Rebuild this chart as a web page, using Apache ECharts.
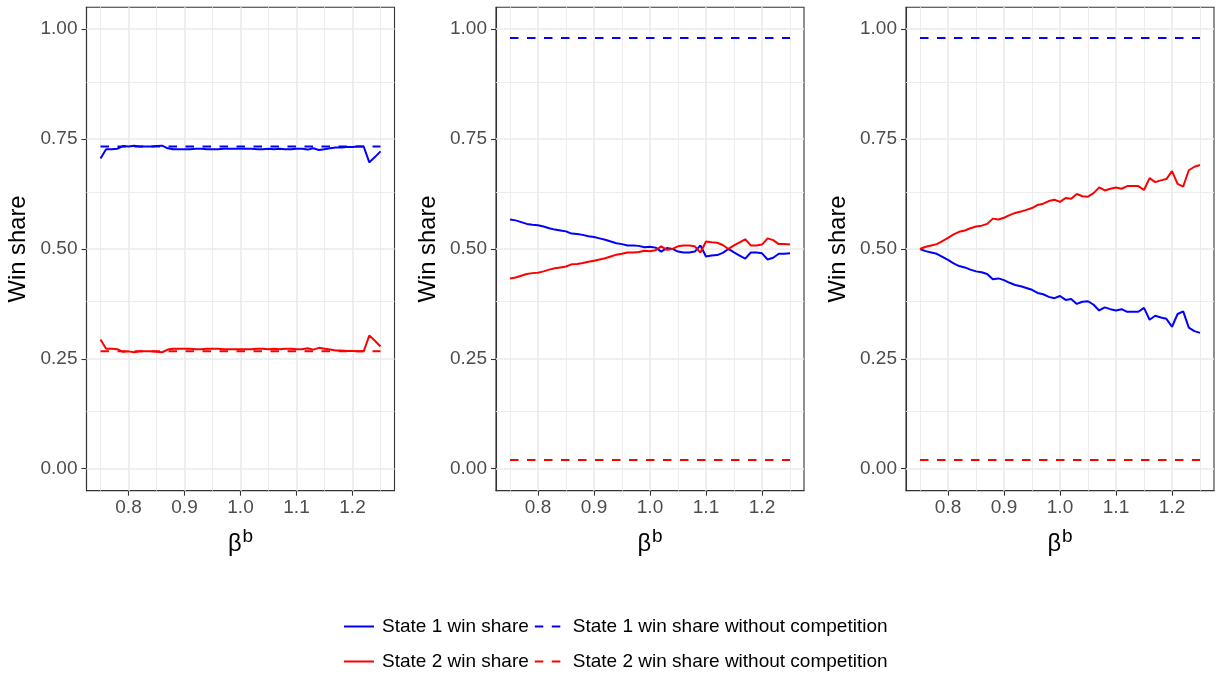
<!DOCTYPE html>
<html><head><meta charset="utf-8">
<script src="https://cdn.jsdelivr.net/npm/echarts@6.0.0/dist/echarts.min.js"></script>
<style>html,body{margin:0;padding:0;background:#fff}#c{width:1215px;height:673px}</style>
</head><body><div id="c"></div>
<script>
const betaB = [0.75,0.76,0.77,0.78,0.79,0.80,0.81,0.82,0.83,0.84,0.85,0.86,0.87,0.88,0.89,0.90,0.91,0.92,0.93,0.94,0.95,0.96,0.97,0.98,0.99,1.00,1.01,1.02,1.03,1.04,1.05,1.06,1.07,1.08,1.09,1.10,1.11,1.12,1.13,1.14,1.15,1.16,1.17,1.18,1.19,1.20,1.21,1.22,1.23,1.24,1.25];
const xTicks = [0.8,0.9,1.0,1.1,1.2];
const yTicks = [0,0.25,0.5,0.75,1];
const xMinorGrid = [0.75,0.85,0.95,1.05,1.15,1.25];
const yMinorGrid = [0.125,0.375,0.625,0.875];

const p1State1 = [0.706,0.727,0.727,0.728,0.734,0.733,0.735,0.733,0.733,0.733,0.734,0.735,0.729,0.727,0.727,0.727,0.727,0.728,0.728,0.727,0.727,0.727,0.728,0.728,0.728,0.728,0.728,0.728,0.727,0.727,0.728,0.727,0.728,0.727,0.727,0.728,0.728,0.726,0.729,0.725,0.727,0.729,0.731,0.731,0.732,0.732,0.733,0.733,0.697,0.709,0.722];
const p1State2 = [0.294,0.273,0.273,0.272,0.266,0.267,0.265,0.267,0.267,0.267,0.266,0.265,0.271,0.273,0.273,0.273,0.273,0.272,0.272,0.273,0.273,0.273,0.272,0.272,0.272,0.272,0.272,0.272,0.273,0.273,0.272,0.273,0.272,0.273,0.273,0.272,0.272,0.274,0.271,0.275,0.273,0.271,0.269,0.269,0.268,0.268,0.267,0.267,0.303,0.291,0.278];

const p2State1 = [0.567,0.565,0.561,0.557,0.555,0.554,0.551,0.547,0.544,0.542,0.540,0.535,0.534,0.532,0.529,0.527,0.524,0.521,0.517,0.513,0.511,0.508,0.508,0.507,0.504,0.505,0.503,0.494,0.502,0.500,0.494,0.492,0.492,0.494,0.508,0.483,0.485,0.486,0.491,0.500,0.492,0.485,0.478,0.492,0.492,0.490,0.476,0.480,0.489,0.489,0.490];
const p2State2 = [0.433,0.435,0.439,0.443,0.445,0.446,0.449,0.453,0.456,0.458,0.460,0.465,0.466,0.468,0.471,0.473,0.476,0.479,0.483,0.487,0.489,0.492,0.492,0.493,0.496,0.495,0.497,0.506,0.498,0.500,0.506,0.508,0.508,0.506,0.492,0.517,0.515,0.514,0.509,0.500,0.508,0.515,0.522,0.508,0.508,0.510,0.524,0.520,0.511,0.511,0.510];

const p3State1 = [0.500,0.495,0.492,0.489,0.482,0.475,0.467,0.461,0.458,0.453,0.449,0.447,0.443,0.431,0.433,0.429,0.423,0.418,0.415,0.411,0.407,0.400,0.397,0.391,0.388,0.393,0.384,0.386,0.375,0.380,0.381,0.373,0.360,0.367,0.363,0.360,0.363,0.357,0.357,0.357,0.366,0.339,0.348,0.344,0.341,0.323,0.352,0.358,0.321,0.313,0.309];
const p3State2 = [0.500,0.505,0.508,0.511,0.518,0.525,0.533,0.539,0.542,0.547,0.551,0.553,0.557,0.569,0.567,0.571,0.577,0.582,0.585,0.589,0.593,0.600,0.603,0.609,0.612,0.607,0.616,0.614,0.625,0.620,0.619,0.627,0.640,0.633,0.637,0.640,0.637,0.643,0.643,0.643,0.634,0.661,0.652,0.656,0.659,0.677,0.648,0.642,0.679,0.687,0.691];

const noCompState1 = [0.733, 0.98, 0.98];
const noCompState2 = [0.267, 0.02, 0.02];
const xRange = [0.75, 1.25];

const seriesNames = ['State 1 win share','State 1 win share without competition','State 2 win share','State 2 win share without competition'];
const xTitle = 'β';
const xTitleSup = 'b';
const yTitle = 'Win share';

const FONT = "'Liberation Sans', Arial, Helvetica, sans-serif";
const state1Panels = [p1State1, p2State1, p3State1];
const state2Panels = [p1State2, p2State2, p3State2];
const panelLefts = [86.5, 496, 906];
const PW = 308, PT = 7.2, PH = 483.5;
const BLUE = '#0000FF', RED = '#FF0000', DASH = [8.5, 8.5];

const grid = [], xAxis = [], yAxis = [], series = [];
panelLefts.forEach((l, i) => {
  grid.push({left: l, top: PT, width: PW, height: PH, show: true, borderColor: '#333333', borderWidth: 1.1,
             backgroundColor: '#ffffff', containLabel: false, outerBoundsMode: 'none'});
  xAxis.push({type: 'value', gridIndex: i, min: 0.725, max: 1.275,
    axisLine: {show: true, onZero: false, lineStyle: {color: '#333333', width: 1.1}},
    splitLine: {show: false}, minorSplitLine: {show: false},
    axisTick: {show: true, customValues: xTicks, length: 5, lineStyle: {color: '#333333', width: 1.1}},
    axisLabel: {customValues: xTicks, formatter: v => v.toFixed(1), color: '#4D4D4D', fontSize: 19, margin: 8, fontFamily: FONT},
    name: '{g|' + xTitle + '}{s|' + xTitleSup + '}', nameLocation: 'middle', nameGap: 37,
    nameTextStyle: {color: '#000', fontFamily: FONT, rich: {
      g: {fontSize: 23.75, color: '#000', fontFamily: FONT},
      s: {fontSize: 19, color: '#000', fontFamily: FONT, padding: [0, 0, 15, 1]}}}
  });
  yAxis.push({type: 'value', gridIndex: i, min: -0.05, max: 1.05,
    axisLine: {show: true, onZero: false, lineStyle: {color: '#333333', width: 1.1}},
    splitLine: {show: false}, minorSplitLine: {show: false},
    axisTick: {show: true, customValues: yTicks, length: 5, lineStyle: {color: '#333333', width: 1.1}},
    axisLabel: {customValues: yTicks, formatter: v => v.toFixed(2), color: '#4D4D4D', fontSize: 19, margin: 9, fontFamily: FONT},
    name: yTitle, nameLocation: 'middle', nameGap: 56,
    nameTextStyle: {color: '#000', fontSize: 23.75, fontFamily: FONT}
  });
  const gl = (arr, key, w) => arr.map(v => ({[key]: v, lineStyle: {color: '#EBEBEB', width: w, type: 'solid'}}));
  series.push({name: 'grid' + i, type: 'line', xAxisIndex: i, yAxisIndex: i, data: [], silent: true,
    markLine: {silent: true, symbol: ['none', 'none'], label: {show: false}, z: 1, animation: false,
      emphasis: {disabled: true},
      data: [].concat(gl(xMinorGrid, 'xAxis', 0.9), gl(yMinorGrid, 'yAxis', 0.9), gl(xTicks, 'xAxis', 1.7), gl(yTicks, 'yAxis', 1.7))}
  });
  const mk = (name, vals, color, dashed) => ({
    name, type: 'line', xAxisIndex: i, yAxisIndex: i, symbol: 'none', showSymbol: false, z: 3,
    data: vals, color, lineStyle: {color, width: 2, type: dashed ? DASH : 'solid'},
    emphasis: {disabled: true}, animation: false
  });
  series.push(mk(seriesNames[0], betaB.map((x, k) => [x, state1Panels[i][k]]), BLUE, false));
  series.push(mk(seriesNames[1], xRange.map(x => [x, noCompState1[i]]), BLUE, true));
  series.push(mk(seriesNames[2], betaB.map((x, k) => [x, state2Panels[i][k]]), RED, false));
  series.push(mk(seriesNames[3], xRange.map(x => [x, noCompState2[i]]), RED, true));
});

const legendCommon = {left: 343, padding: 0, itemWidth: 30, itemHeight: 14, itemGap: 5, selectedMode: false,
  itemStyle: {opacity: 0, borderWidth: 0},
  textStyle: {fontSize: 19, color: '#000', fontFamily: FONT, padding: [0, 0, 0, 3]}};
const option = {
  animation: false,
  backgroundColor: '#ffffff',
  grid, xAxis, yAxis, series,
  legend: [
    Object.assign({top: 617, data: [seriesNames[0], seriesNames[1]]}, legendCommon),
    Object.assign({top: 652, data: [seriesNames[2], seriesNames[3]]}, legendCommon)
  ]
};
const chart = echarts.init(document.getElementById('c'), null, {renderer: 'canvas'});
chart.setOption(option);
</script></body></html>
